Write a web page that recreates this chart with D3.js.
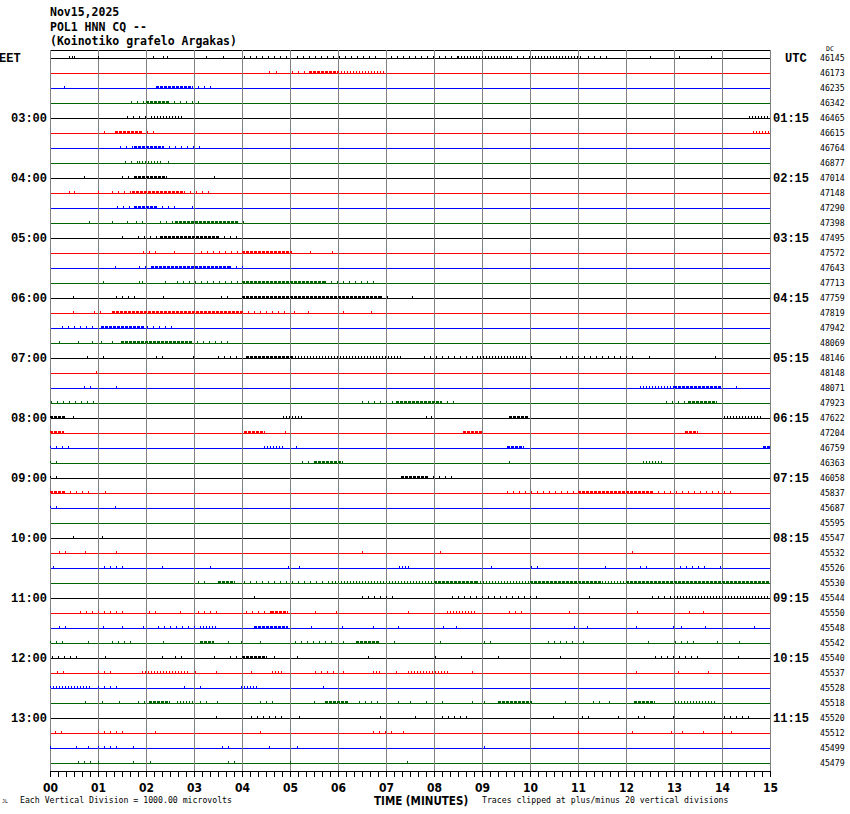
<!DOCTYPE HTML>
<html lang="en">
	<head>
		<title>POL1 HNN CQ helicorder</title>
		<style type="text/css">
			body {
				margin: 0;
				background-color: rgb(255, 255, 255);
			}
			.hdr { font: bold 11.5px "DejaVu Sans Mono", monospace; }
			.hour { font: bold 12px "Liberation Mono", monospace; }
			.small { font: 8.2px "DejaVu Sans Mono", monospace; }
			.axis text { font: bold 12px "Liberation Sans Narrow", "DejaVu Sans Condensed", sans-serif; }
		</style>
		<script src="https://d3js.org/d3.v7.min.js"></script>
	</head>
	<body>
		<div id="display"></div>
		<script>

			// header lines
			var titleLines = ["Nov15,2025", "POL1 HNN CQ --", "(Koinotiko grafelo Argakas)"];

			// one colour per trace row, repeating
			var traceColors = ["#000000", "#ff0000", "#0000ff", "#006400"];

			// hour labels, every 4th row
			var eetLabels = ["EET", "03:00", "04:00", "05:00", "06:00", "07:00", "08:00", "09:00", "10:00", "11:00", "12:00", "13:00"];
			var utcLabels = ["UTC", "01:15", "02:15", "03:15", "04:15", "05:15", "06:15", "07:15", "08:15", "09:15", "10:15", "11:15"];

			// DC value printed at the right of every row
			var dcValues = [46145, 46173, 46235, 46342, 46465, 46615, 46764, 46877,
				47014, 47148, 47290, 47398, 47495, 47572, 47643, 47713,
				47759, 47819, 47942, 48069, 48146, 48148, 48071, 47923,
				47622, 47204, 46759, 46363, 46058, 45837, 45687, 45595,
				45547, 45532, 45526, 45530, 45544, 45550, 45548, 45542,
				45540, 45537, 45528, 45518, 45520, 45512, 45499, 45479];

			var minuteLabels = ["00","01","02","03","04","05","06","07","08","09","10","11","12","13","14","15"];

			// bursts of activity: [row, start minute, end minute, weight 1 sparse .. 3 dense]
			var bands = [
				[0,4.04,4.95,1],[0,5.15,6.9,1],[0,7.1,8.0,1],[0,8.1,8.5,1],[0,8.5,9.6,2],[0,9.6,10.0,1],[0,10.05,11.1,2],[0,11.2,11.7,1],
				[1,5.05,5.4,1],[1,5.4,6.0,3],[1,6.0,6.97,2],
				[2,2.2,2.95,3],[2,2.95,3.46,1],
				[3,1.68,2.0,1],[3,2.0,2.45,3],[3,2.45,3.13,1],
				[4,1.6,2.1,1],[4,2.1,2.75,2],[4,14.57,15,2],
				[5,1.35,1.9,3],[5,1.9,2.16,1],[5,14.65,15,2],
				[6,1.46,1.75,1],[6,1.75,2.35,3],[6,2.35,3.22,1],
				[7,1.57,1.85,1],[7,1.85,2.35,2],
				[8,1.49,1.75,1],[8,1.75,2.43,3],
				[9,1.3,1.7,1],[9,1.7,2.8,3],[9,2.8,3.41,1],
				[10,1.4,1.75,1],[10,1.75,2.2,3],[10,2.2,2.64,1],
				[11,1.8,1.95,1],[11,2.29,2.6,1],[11,2.6,3.9,3],[11,3.9,4.13,1],
				[12,1.83,2.3,1],[12,2.3,3.5,3],[12,3.5,3.9,1],
				[13,1.94,2.26,1],[13,3.15,3.99,1],[13,3.99,5.05,3],
				[14,1.86,2.1,1],[14,2.1,3.75,3],[14,3.75,4.13,1],
				[15,2.64,3.99,1],[15,3.99,5.72,3],[15,5.72,6.78,1],
				[16,1.37,1.83,1],[16,2.36,2.47,1],[16,3.56,3.75,1],[16,3.99,6.9,3],[16,6.9,7.07,1],
				[17,0.91,1.1,1],[17,1.3,3.99,3],[17,3.99,4.95,1],
				[18,0.38,0.91,1],[18,1.06,1.97,3],[18,2.02,2.57,1],
				[19,1.47,2.93,3],[19,2.93,3.7,1],
				[20,2.21,2.45,1],[20,3.51,3.99,1],[20,4.09,5.05,3],[20,5.05,7.36,2],[20,7.79,8.9,1],[20,8.9,9.9,2],[20,9.9,10.14,1],[20,10.63,12.16,1],
				[22,0.7,0.96,1],[22,12.3,13.0,2],[22,13.0,14.0,3],
				[23,0.03,0.91,1],[23,6.49,7.2,1],[23,7.2,8.15,3],[23,8.15,8.51,1],[23,12.84,13.3,1],[23,13.3,13.9,3],
				[24,0,0.34,3],[24,4.86,5.24,2],[24,9.57,9.95,3],[24,14.04,14.86,2],
				[25,0,0.29,3],[25,4.04,4.47,3],[25,8.61,8.99,3],[25,13.22,13.51,3],
				[26,0,0.48,1],[26,4.46,4.86,2],[26,9.52,9.88,3],[26,14.86,15,3],
				[27,0,0.19,1],[27,5.24,5.5,1],[27,5.5,6.1,3],[27,12.36,12.74,2],
				[28,0,0.19,1],[28,7.31,7.85,3],[28,7.85,8.41,1],
				[29,0,0.29,3],[29,0.29,0.91,1],[29,9.52,11.01,1],[29,11.01,12.55,3],[29,12.55,14.18,1],
				[30,0,0.24,1],[30,1.35,1.4,1],
				[32,0.48,0.58,1],
				[33,0.19,0.38,1],
				[34,1.13,1.59,1],[34,3.34,3.39,1],[34,7.28,7.47,2],[34,10.03,10.24,1],[34,12.29,12.45,1],[34,13.13,13.7,1],
				[35,3.08,3.22,1],[35,3.51,3.85,3],[35,4.04,5.82,1],[35,5.87,8.0,2],[35,8.0,8.9,3],[35,8.9,10.0,2],[35,10.0,11.5,3],[35,11.5,12.0,2],[35,12.0,15,3],
				[36,4.25,4.33,1],[36,6.49,7.16,1],[36,8.37,10.24,1],[36,12.55,13.0,1],[36,13.0,14.95,2],
				[37,0.63,1.59,1],[37,2.07,2.21,1],[37,3.08,3.51,1],[37,4.09,4.6,1],[37,4.6,4.95,3],[37,8.27,8.89,2],[37,9.57,9.86,1],
				[38,0.19,0.38,1],[38,2.26,3.03,1],[38,3.13,3.46,2],[38,4.25,4.95,3],
				[39,0,0.38,1],[39,0.8,0.91,1],[39,1.3,1.78,1],[39,3.13,3.41,3],[39,3.97,4.09,1],[39,5.1,5.96,1],[39,6.38,6.88,3],[39,9.04,9.18,1],[39,10.38,10.91,1],[39,11.1,11.2,1],[39,13.03,13.42,1],
				[40,0.05,0.63,1],[40,2.6,2.84,1],[40,3.75,3.9,1],[40,3.99,4.52,3],[40,12.6,13.51,1],
				[41,0.14,0.38,1],[41,1.01,1.3,1],[41,1.92,2.88,2],[41,4.62,4.86,2],[41,5.53,5.91,1],[41,6.73,6.88,2],[41,7.45,8.32,2],
				[42,0,0.87,2],[42,1.01,1.39,1],[42,4.04,4.33,2],
				[43,1.44,1.49,1],[43,1.83,1.97,1],[43,2.07,2.5,3],[43,2.64,2.98,2],[43,3.13,3.27,1],[43,4.38,4.76,1],[43,5.72,6.2,3],[43,6.44,6.88,1],[43,9.33,10.05,3],[43,11.32,11.49,1],[43,12.16,12.6,3],[43,13.03,13.9,2],
				[44,3.46,3.56,1],[44,4.18,4.86,1],[44,8.17,8.7,1],[44,11.09,11.22,1],[44,12.26,12.4,1],[44,14.04,14.66,1],
				[45,0.1,0.29,1],[45,1.01,1.54,1],[45,6.73,7.12,1],
				[46,0.8,0.91,1],[46,1.01,1.44,1],[46,3.59,3.8,1],
				[47,0.58,0.91,1],[47,3.7,3.85,1]
			];

			// single glitches: [row, minute]
			var spikes = [
				[0,0.4],[0,0.45],[0,0.5],[0,1.01],[0,2.15],[0,2.35],[0,2.43],[0,3.25],[0,3.6],[0,12.5],[0,13.1],[0,13.77],
				[1,4.57],[1,4.71],[2,0.3],[5,1.13],[7,2.45],[8,0.7],[8,3.41],
				[9,0.4],[9,0.5],[9,0.99],[10,2.96],[11,0.82],[11,1.3],[11,1.6],[12,1.49],
				[13,2.58],[13,5.41],[13,5.87],[14,1.35],[15,1.1],[15,1.85],[15,1.92],[15,2.4],
				[16,0.48],[16,7.55],[17,0.48],[17,5.08],[17,5.38],[17,6.1],[17,6.68],[18,0.24],
				[19,0.19],[19,0.58],[19,0.87],[19,1.06],[19,1.3],
				[20,0.77],[20,1.11],[20,2.98],[20,12.48],[20,13.85],[21,0.96],[22,1.38],[22,14.3],
				[24,0.48],[24,7.84],[24,7.93],[25,4.9],[26,5.13],[27,9.57],[29,1.15],
				[32,1.09],[33,0.72],[33,1.37],[33,6.49],[33,8.13],[33,12.12],
				[34,0.07],[34,2.34],[34,4.95],[34,5.19],[34,9.18],[34,11.56],[34,13.96],
				[36,11.22],[37,2.7],[37,5.53],[37,5.96],[37,7.45],[37,10.82],[37,12.23],[37,13.32],[37,13.6],
				[38,1.11],[38,1.49],[38,1.94],[38,5.43],[38,6.08],[38,6.73],[38,7.26],[38,8.19],[38,8.46],[38,10.91],[38,11.18],[38,12.21],[38,12.98],[38,13.15],[38,13.65],[38,14.66],
				[39,2.36],[39,3.7],[39,4.38],[39,6.1],[39,7.16],[39,8.13],[39,12.45],[39,13.9],[39,14.35],
				[40,1.15],[40,2.34],[40,3.41],[40,4.67],[40,5.15],[40,6.63],[40,8.03],[40,8.56],[40,9.33],[40,10.63],[40,14.33],
				[41,3.03],[41,3.46],[41,4.18],[41,6.11],[41,7.21],[41,8.8],[41,12.21],[41,13.08],[41,13.7],
				[42,2.8],[42,3.13],[42,3.97],[42,5.69],
				[43,0.72],[43,1.08],[43,3.48],[43,5.51],[43,7.26],[43,7.5],[43,7.84],[43,8.17],[43,8.8],[43,9.04],[43,10.72],[43,11.64],
				[44,5.19],[44,6.88],[44,7.6],[44,10.48],[44,11.83],[44,12.98],
				[45,2.18],[45,4.38],[45,7.36],[45,11.01],[45,12.12],[45,12.93],[45,13.17],[45,13.6],[45,13.99],[45,14.18],
				[46,0],[46,0.55],[46,1.73],[46,4.57],[46,5.15],[46,9.04],
				[47,1.01],[47,1.73],[47,2.09],[47,5.0],[47,7.43]
			];

			var W = 850, H = 814;
			var plotLeft = 50, plotRight = 770, plotTop = 50, plotBottom = 771;

			var x = d3.scaleLinear().domain([0, 15]).range([plotLeft, plotRight]);
			var y = d3.scaleLinear().domain([0, dcValues.length - 1]).range([58, 58 + 15 * (dcValues.length - 1)]);

			var svg = d3.select("#display").append("svg")
				.attr("width", W).attr("height", H)
				.style("display", "block")
				.style("background", "#fff");

			// header
			svg.selectAll("text.hdr").data(titleLines).enter().append("text")
				.attr("class", "hdr")
				.attr("x", 50)
				.attr("y", function(d, i) { return 16 + i * 14.5; })
				.text(function(d) { return d; });

			// top border
			svg.append("line")
				.attr("x1", plotLeft).attr("x2", plotRight)
				.attr("y1", plotTop + 0.5).attr("y2", plotTop + 0.5)
				.attr("stroke", "#000");

			// base lines of the traces
			svg.append("g").selectAll("line").data(dcValues).enter().append("line")
				.attr("x1", plotLeft).attr("x2", plotRight)
				.attr("y1", function(d, i) { return y(i) + 0.5; })
				.attr("y2", function(d, i) { return y(i) + 0.5; })
				.attr("stroke", function(d, i) { return traceColors[i % 4]; })
				.attr("stroke-width", 1);

			// minute grid
			svg.append("g").selectAll("line").data(d3.range(0, 16)).enter().append("line")
				.attr("x1", function(d) { return Math.round(x(d)) + 0.5; })
				.attr("x2", function(d) { return Math.round(x(d)) + 0.5; })
				.attr("y1", plotTop).attr("y2", plotBottom)
				.attr("stroke", "#808080");

			// activity bursts, two pixel rows just above the base line
			var dashes = {1: "1,5", 2: "1,2", 3: "3,1"};
			svg.append("g").attr("shape-rendering", "crispEdges")
				.selectAll("line").data(bands).enter().append("line")
				.attr("x1", function(d) { return x(d[1]); })
				.attr("x2", function(d) { return x(d[2]); })
				.attr("y1", function(d) { return y(d[0]) - 1; })
				.attr("y2", function(d) { return y(d[0]) - 1; })
				.attr("stroke", function(d) { return traceColors[d[0] % 4]; })
				.attr("stroke-width", 2)
				.attr("stroke-dasharray", function(d) { return dashes[d[3]]; });

			// isolated spikes
			svg.append("g").selectAll("rect").data(spikes).enter().append("rect")
				.attr("x", function(d) { return Math.round(x(d[1])); })
				.attr("y", function(d) { return y(d[0]) - 2; })
				.attr("width", 1).attr("height", 3)
				.attr("fill", function(d) { return traceColors[d[0] % 4]; });

			// left / right hour labels
			svg.selectAll("text.eet").data(eetLabels).enter().append("text")
				.attr("class", "hour")
				.attr("x", function(d, i) { return i == 0 ? -1 : 47; })
				.attr("y", function(d, i) { return y(i * 4) + 4; })
				.attr("text-anchor", function(d, i) { return i == 0 ? "start" : "end"; })
				.text(function(d) { return d; });

			svg.selectAll("text.utc").data(utcLabels).enter().append("text")
				.attr("class", "hour")
				.attr("x", function(d, i) { return i == 0 ? 785 : 773; })
				.attr("y", function(d, i) { return y(i * 4) + 4; })
				.text(function(d) { return d; });

			svg.selectAll("text.dc").data(dcValues).enter().append("text")
				.attr("class", "small")
				.attr("x", 820)
				.attr("y", function(d, i) { return y(i) + 3; })
				.text(function(d) { return d; });

			svg.append("text").attr("class", "small")
				.attr("x", 826).attr("y", 51)
				.style("font-size", "6.5px")
				.text("DC");

			// time axis, a tick every 10 seconds
			var axis = d3.axisBottom(x)
				.tickValues(d3.range(0, 91).map(function(k) { return k / 6; }))
				.tickSize(6)
				.tickPadding(6)
				.tickFormat(function(d) {
					var r = Math.round(d);
					return Math.abs(d - r) < 1e-6 ? minuteLabels[r] : "";
				});
			var gAxis = svg.append("g").attr("class", "axis")
				.attr("transform", "translate(0," + plotBottom + ")")
				.call(axis);
			gAxis.select(".domain").attr("stroke", "#000").attr("d", "M" + plotLeft + ",0.5H" + plotRight);
			gAxis.selectAll(".tick line").attr("stroke", "#000");
			gAxis.selectAll(".tick text").attr("fill", "#000");

			svg.append("text")
				.style("font", "bold 11.5px 'DejaVu Sans Condensed', sans-serif")
				.attr("x", 374).attr("y", 805)
				.text("TIME (MINUTES)");

			svg.append("text").attr("class", "small")
				.attr("x", 20).attr("y", 803)
				.text("Each Vertical Division = 1000.00 microvolts");

			svg.append("text").attr("class", "small")
				.attr("x", 482).attr("y", 803)
				.text("Traces clipped at plus/minus 20 vertical divisions");

			svg.append("text").attr("class", "small")
				.attr("x", 2).attr("y", 803)
				.style("font-size", "5px")
				.text("JL");

		</script>
	</body>
</html>
